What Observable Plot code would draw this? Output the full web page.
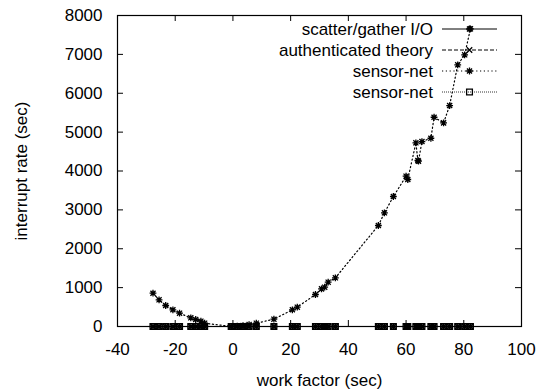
<!DOCTYPE html>
<html><head><meta charset="utf-8">
<script src="https://cdn.jsdelivr.net/npm/d3@7"></script>
<script src="https://cdn.jsdelivr.net/npm/@observablehq/plot@0.6"></script>
<style>
body{margin:0;background:#fff}
#c{position:relative;width:542px;height:389px}
#c svg{position:absolute;left:0;top:0}
</style>
</head><body><div id="c"></div>
<script>
// ---- data ----
const workFactor = [-27.7, -25.6, -23.3, -20.8, -18.5, -14.6, -12.9, -11.1, -9.8, -0.6, 1.5, 3.5, 5.6, 8.1, 14.2, 20.6, 22.3, 28.6, 30.7, 31.8, 33.0, 35.5, 50.4, 52.5, 55.6, 60.0, 60.6, 63.4, 64.1, 64.3, 65.5, 68.6, 69.7, 73.0, 75.1, 77.9, 80.3, 82.3];
const scatterGather = [0,0,0,0,0,0,0,0,0,0,0,0,0,0,0,0,0,0,0,0,0,0,0,0,0,0,0,0,0,0,0,0,0,0,0,0,0,0];
const authenticatedTheory = [0,0,0,0,0,0,0,0,0,0,0,0,0,0,0,0,0,0,0,0,0,0,0,0,0,0,0,0,0,0,0,0,0,0,0,0,0,0];
const sensorNetA = [856, 687, 540, 430, 343, 223, 180, 137, 85, 2, 8, 25, 50, 85, 188, 430, 497, 823, 968, 1012, 1140, 1252, 2598, 2924, 3344, 3866, 3781, 4724, 4270, 4252, 4758, 4843, 5383, 5238, 5684, 6731, 6988, 7657];
const sensorNetB = [0,0,0,0,0,0,0,0,0,0,0,0,0,0,0,0,0,0,0,0,0,0,0,0,0,0,0,0,0,0,0,0,0,0,0,0,0,0];
const seriesNames = ["scatter/gather I/O", "authenticated theory", "sensor-net", "sensor-net"];
const xTicks = [-40, -20, 0, 20, 40, 60, 80, 100];
const yTicks = [0, 1000, 2000, 3000, 4000, 5000, 6000, 7000, 8000];

// ---- symbols (gnuplot style) ----
const star = {draw(ctx, size){const r=Math.sqrt(size/Math.PI);const d=r*0.75;
  ctx.moveTo(-r,0);ctx.lineTo(r,0);ctx.moveTo(0,-r);ctx.lineTo(0,r);
  ctx.moveTo(-d,-d);ctx.lineTo(d,d);ctx.moveTo(-d,d);ctx.lineTo(d,-d);}};
const cross = {draw(ctx, size){const r=Math.sqrt(size/Math.PI)*0.8;
  ctx.moveTo(-r,-r);ctx.lineTo(r,r);ctx.moveTo(-r,r);ctx.lineTo(r,-r);}};
const box = {draw(ctx, size){const r=Math.sqrt(size/Math.PI)*0.85;
  ctx.moveTo(-r,-r);ctx.lineTo(r,-r);ctx.lineTo(r,r);ctx.lineTo(-r,r);ctx.closePath();}};

const styles = [
  {values: scatterGather, symbol: star, dash: null, width: 1},
  {values: authenticatedTheory, symbol: cross, dash: "4,2", width: 1},
  {values: sensorNetA, symbol: star, dash: "1.2,2.6", width: 1.2},
  {values: sensorNetB, symbol: box, dash: "1,1", width: 0.8}
];

const W = 542, H = 389, mL = 117, mR = 21, mT = 15, mB = 63;
const pw = W - mL - mR, ph = H - mT - mB;
const font = "'Liberation Sans', Arial, Helvetica, sans-serif";
const FS = 17;

const marks = [];
styles.forEach((s, i) => {
  const rows = workFactor.map((x, j) => ({x, y: s.values[j]}));
  marks.push(Plot.line(rows, {x: "x", y: "y", stroke: "black", strokeWidth: s.width, strokeDasharray: s.dash}));
  marks.push(Plot.dot(rows, {x: "x", y: "y", symbol: () => s.symbol, r: 3.4, stroke: "black", strokeWidth: 1.3, fill: "none"}));
});

const fmt = d => String(d);
const chart = Plot.plot({
  width: W, height: H,
  marginLeft: mL, marginRight: mR, marginTop: mT, marginBottom: mB,
  style: {fontFamily: font, fontSize: FS + "px", color: "black", background: "white"},
  x: {domain: [-40, 100], ticks: xTicks},
  y: {domain: [0, 8000], ticks: yTicks},
  symbol: {type: "identity"},
  marks: [
    Plot.axisX({ticks: xTicks, tickSize: 0, tickPadding: 16, fontSize: FS, tickFormat: fmt,
      label: "work factor (sec)", labelAnchor: "center", labelArrow: "none", labelOffset: 59}),
    Plot.axisY({ticks: yTicks, tickSize: 0, tickPadding: 15, fontSize: FS, tickFormat: fmt,
      label: "interrupt rate (sec)", labelAnchor: "center", labelArrow: "none", labelOffset: 103}),
    Plot.tickX(xTicks, {x: d => d, insetTop: ph - 6, stroke: "black"}),
    Plot.tickX(xTicks, {x: d => d, insetBottom: ph - 6, stroke: "black"}),
    Plot.tickY(yTicks, {y: d => d, insetRight: pw - 6, stroke: "black"}),
    Plot.tickY(yTicks, {y: d => d, insetLeft: pw - 6, stroke: "black"}),
    ...marks,
    Plot.frame({stroke: "black", strokeWidth: 1.2})
  ]
});
document.getElementById("c").appendChild(chart);

// ---- legend overlay (gnuplot key, top right) ----
const svg = d3.select("#c").append("svg").attr("width", W).attr("height", H)
  .style("pointer-events", "none");
const textRight = 433, s0 = 442, s1 = 497, sm = (s0 + s1) / 2;
seriesNames.forEach((name, i) => {
  const yy = 29 + i * 21;
  svg.append("text").attr("x", textRight).attr("y", yy).attr("dy", "0.35em")
    .attr("text-anchor", "end").attr("font-family", font).attr("font-size", FS).text(name);
  svg.append("line").attr("x1", s0).attr("x2", s1).attr("y1", yy).attr("y2", yy)
    .attr("stroke", "black").attr("stroke-width", styles[i].width)
    .attr("stroke-dasharray", styles[i].dash);
  const p = d3.path(); styles[i].symbol.draw(p, 3.4 * 3.4 * Math.PI);
  svg.append("path").attr("d", p.toString()).attr("transform", `translate(${sm},${yy})`)
    .attr("stroke", "black").attr("stroke-width", 1.3).attr("fill", "none");
});
</script></body></html>
